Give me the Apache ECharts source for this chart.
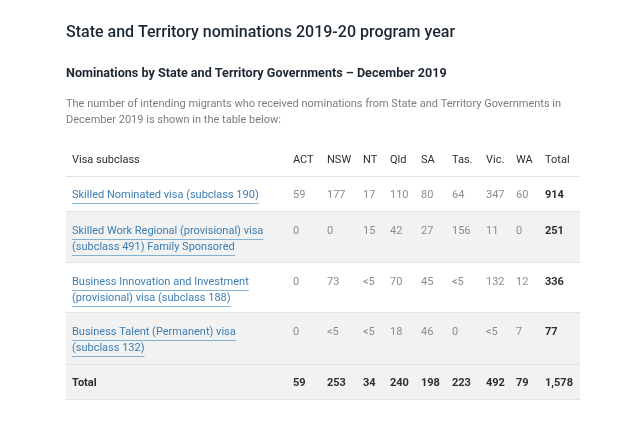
<!DOCTYPE html>
<html><head><meta charset="utf-8">
<script src="https://cdn.jsdelivr.net/npm/echarts@6/dist/echarts.min.js"></script>
<style>html,body{margin:0;padding:0;background:#fff}#c{width:640px;height:426px}</style>
</head><body><div id="c"></div>
<script>
// ---- data ----
const pageTitle = 'State and Territory nominations 2019-20 program year';
const tableTitle = 'Nominations by State and Territory Governments \u2013 December 2019';
const intro = 'The number of intending migrants who received nominations from State and Territory Governments in\nDecember 2019 is shown in the table below:';
const columns = ['Visa subclass', 'ACT', 'NSW', 'NT', 'Qld', 'SA', 'Tas.', 'Vic.', 'WA', 'Total'];
const visaSubclasses = [
  'Skilled Nominated visa (subclass 190)',
  'Skilled Work Regional (provisional) visa\n(subclass 491) Family Sponsored',
  'Business Innovation and Investment\n(provisional) visa (subclass 188)',
  'Business Talent (Permanent) visa\n(subclass 132)'
];
const ACT = ['59', '0', '0', '0'];
const NSW = ['177', '0', '73', '<5'];
const NT = ['17', '15', '<5', '<5'];
const Qld = ['110', '42', '70', '18'];
const SA = ['80', '27', '45', '46'];
const Tas = ['64', '156', '<5', '0'];
const Vic = ['347', '11', '132', '<5'];
const WA = ['60', '0', '12', '7'];
const rowTotals = ['914', '251', '336', '77'];
const totalLabel = 'Total';
const columnTotals = ['59', '253', '34', '240', '198', '223', '492', '79', '1,578'];

// ---- layout (not data) ----
const TABLE_W = 514, TABLE_H = 260;
const colX = [6, 227, 261, 297, 324, 355, 386, 420, 450, 479];
const rowH = [37, 35, 51, 50, 52, 35];
const rowFill = ['#ffffff', '#ffffff', '#f2f2f2', '#ffffff', '#f2f2f2', '#f2f2f2'];
const rowTop = [];
rowH.reduce((a, h, i) => { rowTop[i] = a; return a + h; }, 0);
const FONT = 'Roboto, "Noto Sans", sans-serif';
const LINE_H = 16;

const stateCols = [ACT, NSW, NT, Qld, SA, Tas, Vic, WA];

// build cells: [col, row, text, kind]
const cells = [];
columns.forEach((c, i) => cells.push([i, 0, c, 'head']));
visaSubclasses.forEach((v, r) => {
  cells.push([0, r + 1, v, 'link']);
  stateCols.forEach((arr, ci) => cells.push([ci + 1, r + 1, arr[r], 'val']));
  cells.push([9, r + 1, rowTotals[r], 'bold']);
});
cells.push([0, 5, totalLabel, 'bold']);
columnTotals.forEach((t, i) => cells.push([i + 1, 5, t, 'bold']));

const measure = (() => {
  const ctx = document.createElement('canvas').getContext('2d');
  return (txt, font) => { ctx.font = font; return ctx.measureText(txt).width; };
})();

const styleOf = {
  head: { fill: '#2b2f33', weight: 'normal', size: 11 },
  link: { fill: '#3c7db3', weight: 'normal', size: 11 },
  val:  { fill: '#8c8c8c', weight: 'normal', size: 11 },
  bold: { fill: '#2b2f33', weight: 'bold', size: 11 }
};

const chart = echarts.init(document.getElementById('c'), null, { renderer: 'canvas' });
chart.setOption({
  backgroundColor: '#ffffff',
  animation: false,
  title: [
    { text: pageTitle, left: 66, top: 25, padding: 0, textStyle: { fontFamily: FONT, fontSize: 16, fontWeight: 500, color: '#1d2731' } },
    { text: tableTitle, left: 66, top: 67, padding: 0, textStyle: { fontFamily: FONT, fontSize: 12.6, fontWeight: 'bold', color: '#1d2731' } },
    { text: intro, left: 66, top: 96, padding: 0, textStyle: { fontFamily: FONT, fontSize: 11, fontWeight: 'normal', color: '#7d7d7d', lineHeight: 16 } }
  ],
  grid: { left: 66, top: 140, width: TABLE_W, height: TABLE_H },
  xAxis: { type: 'value', min: 0, max: TABLE_W, show: false },
  yAxis: { type: 'value', min: 0, max: TABLE_H, inverse: true, show: false },
  series: [
    {
      type: 'custom',
      data: rowH.map((h, i) => [i]),
      renderItem: (params, api) => {
        const i = api.value(0);
        const p0 = api.coord([0, rowTop[i]]);
        const p1 = api.coord([TABLE_W, rowTop[i] + rowH[i]]);
        return {
          type: 'group',
          children: [
            { type: 'rect', shape: { x: p0[0], y: p0[1], width: p1[0] - p0[0], height: p1[1] - p0[1] }, style: { fill: rowFill[i] } },
            { type: 'line', shape: { x1: p0[0], y1: p1[1] - 0.5, x2: p1[0], y2: p1[1] - 0.5 }, style: { stroke: '#e3e3e3', lineWidth: 1 } }
          ]
        };
      },
      silent: true
    },
    {
      type: 'custom',
      data: cells.map(c => ({ value: [c[0], c[1]], text: c[2], kind: c[3] })),
      renderItem: (params, api) => {
        const item = cells[params.dataIndex];
        const col = item[0], row = item[1], txt = item[2], kind = item[3];
        const s = styleOf[kind];
        const firstY = rowTop[row] + (row === 0 ? 20.5 : (rowH[row] > 40 ? 19.5 : 18.5));
        const p = api.coord([colX[col], firstY]);
        const children = [];
        const lines = txt.split('\n');
        const font = s.weight + ' ' + s.size + 'px ' + FONT;
        lines.forEach((ln, k) => {
          const y = p[1] + k * LINE_H;
          children.push({
            type: 'text',
            style: { x: p[0], y: y, text: ln, fill: s.fill, font: font, textAlign: 'left', textVerticalAlign: 'middle' }
          });
          if (kind === 'link') {
            const w = measure(ln, font);
            children.push({ type: 'line', shape: { x1: p[0], y1: Math.round(y + 7) + 0.5, x2: p[0] + w, y2: Math.round(y + 7) + 0.5 }, style: { stroke: '#7fb2d3', lineWidth: 1 } });
          }
        });
        return { type: 'group', children };
      },
      silent: true
    }
  ]
});
</script></body></html>
